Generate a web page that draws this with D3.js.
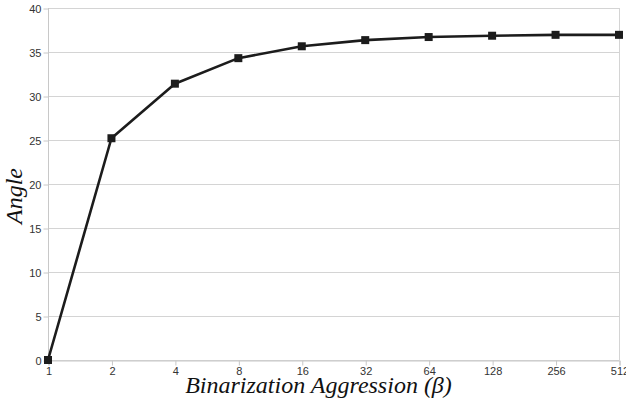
<!DOCTYPE html>
<html><head><meta charset="utf-8">
<script src="https://cdn.jsdelivr.net/npm/d3@7"></script>
<style>body{margin:0;background:#fff}svg{display:block}</style>
</head><body>
<svg id="c" width="626" height="404"></svg>
<script>
const categories = ["1","2","4","8","16","32","64","128","256","512"];
const angles = [0, 25.2, 31.4, 34.3, 35.65, 36.35, 36.7, 36.85, 36.95, 36.95];
const yTicks = [0,5,10,15,20,25,30,35,40];

const svg = d3.select("#c");
const L=48, R=619, T=8, B=360;
const x = d3.scalePoint().domain(categories).range([L,R]);
const y = d3.scaleLinear().domain([0,40]).range([B,T]);

// gridlines
svg.append("g").selectAll("line").data(yTicks).join("line")
  .attr("x1",L).attr("x2",R).attr("y1",d=>y(d)+0.5).attr("y2",d=>y(d)+0.5)
  .attr("stroke","#d4d4d4").attr("stroke-width",1);
// left and right borders
svg.append("line").attr("x1",L+0.5).attr("x2",L+0.5).attr("y1",T).attr("y2",B+0.5).attr("stroke","#c8c8c8");
svg.append("line").attr("x1",R+0.5).attr("x2",R+0.5).attr("y1",T).attr("y2",B+0.5).attr("stroke","#d4d4d4");

// y axis
const ya = svg.append("g").attr("transform",`translate(${L+0.5},0.5)`)
  .call(d3.axisLeft(y).tickValues(yTicks).tickSize(5).tickPadding(2));
ya.select(".domain").remove();
ya.selectAll("line").attr("stroke","#c8c8c8");
ya.selectAll("text").attr("fill","#333").style("font-family","Liberation Sans, Arial, sans-serif").style("font-size","11px");

// x axis
const xa = svg.append("g").attr("transform",`translate(0.5,${B+0.5})`)
  .call(d3.axisBottom(x).tickSize(5).tickPadding(2));
xa.select(".domain").attr("stroke","#c8c8c8");
xa.selectAll("line").attr("stroke","#c8c8c8");
xa.selectAll("text").attr("fill","#333").style("font-family","Liberation Sans, Arial, sans-serif").style("font-size","11px");

// line
const pts = categories.map((c,i)=>[x(c),y(angles[i])]);
svg.append("path").attr("d",d3.line()(pts)).attr("fill","none")
  .attr("stroke","#1c1c1c").attr("stroke-width",2.6).attr("stroke-linejoin","round");
svg.append("g").selectAll("rect").data(pts).join("rect")
  .attr("x",d=>d[0]-4).attr("y",d=>d[1]-4).attr("width",8).attr("height",8).attr("fill","#1c1c1c");

// titles
svg.append("text").attr("x",318.5).attr("y",393).attr("text-anchor","middle")
  .style("font-family","Liberation Serif, serif").style("font-style","italic").style("font-size","24px")
  .attr("fill","#111").text("Binarization Aggression (β)");
svg.append("text").attr("transform","translate(22,196) rotate(-90)").attr("text-anchor","middle")
  .style("font-family","Liberation Serif, serif").style("font-style","italic").style("font-size","24px")
  .attr("fill","#111").text("Angle");
</script>
</body></html>
